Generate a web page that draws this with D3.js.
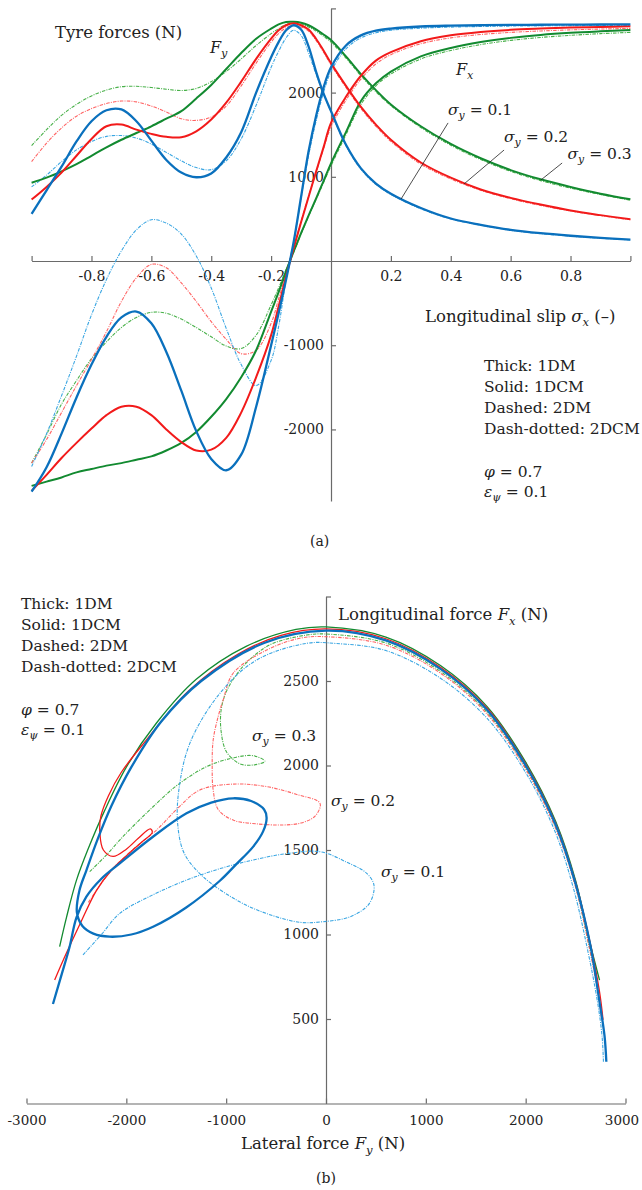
<!DOCTYPE html>
<html>
<head>
<meta charset="utf-8">
<script src="https://cdn.jsdelivr.net/npm/d3@7"></script>
<style>
body { margin: 0; background: #fff; }
svg { display: block; font-family: 'DejaVu Serif', serif; }
.axis path, .axis line { stroke: #6a6a6a; stroke-width: 1.2; }
.axis text { fill: #222; font-family: 'DejaVu Serif', serif; }
</style>
</head>
<body>
<div class="canvas"></div>
<script>
const font = "'DejaVu Serif'"

// longitudinal slip grid for panel (a)
const slip = [-1,-0.95,-0.9,-0.85,-0.8,-0.75,-0.7,-0.65,-0.6,-0.55,-0.5,-0.45,-0.4,-0.35,-0.3,-0.25,-0.2,-0.175,-0.15,-0.125,-0.1,-0.075,-0.05,-0.025,0,0.05,0.1,0.15,0.2,0.3,0.4,0.5,0.6,0.7,0.8,0.9,1]

// sigma_y = 0.1 (blue)
const fxBlue = [-2740,-2450,-2050,-1620,-1230,-900,-670,-600,-740,-1080,-1540,-2020,-2350,-2485,-2300,-1730,-1000,-620,-220,220,760,1300,1720,2060,2300,2560,2680,2735,2760,2785,2795,2800,2804,2806,2808,2809,2810]
const fyBlue = [560,840,1120,1420,1660,1790,1800,1660,1430,1200,1050,995,1040,1230,1530,2000,2420,2600,2740,2800,2750,2550,2250,1990,1780,1380,1100,920,800,630,505,430,370,330,300,275,255]
const fxBlueDC = [-2440,-2050,-1600,-1130,-640,-220,120,370,490,450,320,60,-320,-800,-1230,-1480,-1180,-780,-220,230,740,1250,1660,2000,2250,2520,2650,2710,2740,2765,2778,2785,2790,2793,2795,2797,2798]
const fyBlueDC = [880,1020,1180,1320,1420,1480,1490,1460,1390,1290,1190,1110,1085,1190,1450,1850,2300,2490,2650,2740,2680,2470,2220,1990,1770,1370,1090,910,790,620,500,425,365,325,295,270,250]

// sigma_y = 0.2 (red)
const fxRed = [-2730,-2540,-2340,-2160,-1990,-1830,-1730,-1730,-1830,-2000,-2150,-2250,-2240,-2100,-1800,-1380,-880,-540,-180,150,460,760,1060,1350,1640,1950,2200,2380,2480,2610,2680,2720,2745,2760,2772,2780,2788]
const fyRed = [730,880,1050,1250,1450,1600,1620,1560,1510,1475,1470,1540,1680,1880,2130,2400,2640,2740,2800,2823,2800,2750,2640,2500,2350,2080,1830,1620,1440,1170,990,850,750,670,600,545,495]
const fxRedDC = [-2400,-2120,-1800,-1480,-1170,-840,-480,-200,-40,-80,-260,-480,-720,-930,-1100,-1060,-740,-450,-150,160,470,770,1050,1330,1590,1910,2160,2340,2450,2580,2650,2690,2715,2732,2745,2755,2763]
const fyRedDC = [1180,1400,1580,1720,1810,1870,1900,1890,1840,1770,1690,1670,1710,1840,2080,2350,2600,2700,2770,2800,2780,2730,2620,2480,2330,2060,1810,1600,1420,1150,975,840,740,660,595,540,490]

// sigma_y = 0.3 (green)
const fxGreen = [-2670,-2620,-2570,-2510,-2470,-2430,-2400,-2360,-2320,-2250,-2160,-2030,-1850,-1640,-1380,-1060,-600,-370,-120,110,330,540,740,950,1160,1530,1900,2110,2250,2430,2530,2600,2650,2685,2710,2728,2743]
const fyGreen = [930,990,1065,1150,1250,1350,1440,1520,1600,1690,1780,1930,2090,2280,2470,2640,2760,2810,2838,2840,2830,2800,2750,2690,2625,2430,2220,2030,1860,1600,1390,1220,1080,970,880,800,733]
const fxGreenDC = [-2400,-2060,-1700,-1420,-1160,-960,-790,-670,-610,-620,-690,-790,-900,-1010,-1040,-880,-520,-320,-100,100,320,530,730,930,1130,1500,1860,2080,2220,2400,2500,2570,2620,2655,2680,2700,2715]
const fyGreenDC = [1370,1560,1730,1860,1960,2030,2070,2075,2060,2040,2025,2050,2130,2250,2400,2560,2700,2760,2810,2825,2815,2780,2730,2670,2600,2410,2200,2010,1845,1585,1375,1205,1065,955,865,790,722]

// panel (b) traces: [lateral axis value, longitudinal axis value]
const bBlue = [[-2735,589],[-2650,760],[-2568,928],[-2500,1100],[-2400,1224],[-2250,1330],[-2066,1421],[-1730,1580],[-1397,1717],[-1150,1780],[-930,1806],[-750,1790],[-620,1740],[-595,1690],[-630,1610],[-729,1520],[-900,1415],[-1063,1318],[-1400,1160],[-1732,1046],[-1950,1000],[-2167,987],[-2330,1005],[-2440,1050],[-2495,1130],[-2470,1260],[-2400,1380],[-2290,1560],[-2150,1760],[-1950,1990],[-1650,2260],[-1250,2500],[-620,2725],[0,2798],[600,2740],[1150,2570],[1612,2330],[2000,2000],[2300,1650],[2500,1300],[2650,930],[2740,600],[2790,400],[2808,247]]
const bBlueDC = [[-2434,879],[-2250,1000],[-2066,1125],[-1750,1230],[-1397,1322],[-1060,1390],[-729,1441],[-400,1478],[-60,1490],[200,1430],[408,1362],[481,1290],[430,1180],[241,1105],[-40,1075],[-261,1072],[-600,1125],[-896,1204],[-1231,1342],[-1420,1480],[-1485,1650],[-1475,1850],[-1364,2131],[-1063,2427],[-695,2624],[-194,2723],[100,2722],[600,2680],[1150,2515],[1612,2280],[2000,1958],[2290,1615],[2480,1270],[2620,910],[2720,600],[2765,400],[2779,247]]
const bRed = [[-2718,731],[-2600,890],[-2450,1080],[-2300,1260],[-2150,1380],[-2000,1465],[-1850,1545],[-1740,1605],[-1760,1625],[-1880,1570],[-2000,1505],[-2133,1462],[-2230,1500],[-2265,1600],[-2255,1700],[-2180,1820],[-2050,1960],[-1800,2150],[-1380,2440],[-880,2660],[-450,2770],[0,2808],[600,2750],[1150,2580],[1612,2340],[2000,2010],[2300,1660],[2500,1310],[2650,940],[2740,660],[2775,495]]
const bRedDC = [[-2380,1190],[-2150,1380],[-1900,1520],[-1698,1618],[-1480,1750],[-1264,1855],[-930,1890],[-595,1875],[-300,1830],[-60,1776],[-110,1700],[-250,1660],[-428,1648],[-700,1655],[-930,1677],[-1080,1740],[-1130,1855],[-1140,2000],[-1130,2151],[-1080,2290],[-1030,2388],[-930,2546],[-595,2683],[-261,2753],[0,2762],[600,2712],[1150,2545],[1612,2305],[2000,1978],[2300,1628],[2500,1280],[2640,915],[2740,600],[2760,490]]
const bGreen = [[-2668,928],[-2600,1100],[-2500,1320],[-2380,1510],[-2220,1730],[-2000,1990],[-1700,2250],[-1300,2510],[-800,2705],[-300,2805],[0,2820],[600,2760],[1150,2590],[1612,2350],[2000,2020],[2300,1670],[2500,1320],[2640,960],[2740,730]]
const bGreenDC = [[-2367,1372],[-2200,1470],[-2066,1559],[-1900,1660],[-1732,1756],[-1498,1880],[-1197,1993],[-930,2045],[-729,2058],[-612,2025],[-729,2003],[-862,2010],[-996,2080],[-1050,2200],[-1050,2330],[-996,2440],[-862,2565],[-700,2660],[-529,2723],[-194,2772],[0,2778],[600,2725],[1150,2555],[1612,2315],[2000,1985],[2300,1635],[2500,1285],[2640,920],[2715,722]]

// tick values
const slipTicks = [-1,-0.8,-0.6,-0.4,-0.2,0.2,0.4,0.6,0.8,1]
const forceTicksA = [-2000,-1000,1000,2000,3000]
const fyTicksB = [-3000,-2000,-1000,0,1000,2000,3000]
const fxTicksB = [500,1000,1500,2000,2500,3000]

const legendLines = ["Thick: 1DM", "Solid: 1DCM", "Dashed: 2DM", "Dash-dotted: 2DCM"]

// drawing order: thin dash-dotted first, thick on top
const series = [
  {fx: fxGreenDC, fy: fyGreenDC, b: bGreenDC, color: "#49b14a", dc: true},
  {fx: fxRedDC, fy: fyRedDC, b: bRedDC, color: "#ff6464", dc: true},
  {fx: fxBlueDC, fy: fyBlueDC, b: bBlueDC, color: "#3aa6e2", dc: true},
  {fx: fxGreen, fy: fyGreen, b: bGreen, color: "#128a30", dc: false},
  {fx: fxRed, fy: fyRed, b: bRed, color: "#f21a1a", dc: false},
  {fx: fxBlue, fy: fyBlue, b: bBlue, color: "#0a70bd", dc: false, thick: true}
]

const svg = d3.select(".canvas")
    .append("svg")
    .attr("width", 642)
    .attr("height", 1190)

function rich(g, x, y, parts, size) {
    const t = g.append("text").attr("x", x).attr("y", y)
        .attr("font-size", size).attr("fill", "#222")
        .style("font-family", font)
    let low = false
    parts.forEach(p => {
        const s = t.append("tspan").text(p.t)
        if (p.i) s.attr("font-style", "italic")
        if (p.sub) {
            s.attr("font-size", size * 0.7)
            if (!low) { s.attr("dy", size * 0.28); low = true }
        } else if (low) { s.attr("dy", -size * 0.28); low = false }
    })
    return t
}

// ---------- panel (a) ----------
const xA = d3.scaleLinear().domain([-1, 1]).range([31.6, 630.4])
const yA = d3.scaleLinear().domain([-2850, 3000]).range([501, 8.4])

const ga = svg.append("g")

ga.append("g").attr("class", "axis")
    .attr("transform", `translate(0,${yA(0)})`)
    .call(d3.axisBottom(xA).tickValues(slipTicks).tickSizeInner(-5).tickSizeOuter(0).tickPadding(10)
        .tickFormat(d => Math.abs(d) === 1 ? "" : d.toFixed(1)))
    .call(g => g.selectAll("text").attr("font-size", 14))

ga.append("g").attr("class", "axis")
    .attr("transform", `translate(${xA(0)},0)`)
    .call(d3.axisLeft(yA).tickValues(forceTicksA).tickSizeInner(-5).tickSizeOuter(0).tickPadding(7)
        .tickFormat(d => d === 3000 ? "" : d))
    .call(g => g.selectAll("text").attr("font-size", 14))

const lineA = d3.line()
    .x((d, i) => xA(slip[i]))
    .y(d => yA(d))
    .curve(d3.curveCatmullRom.alpha(0.5))

series.forEach(s => {
    [s.fx, s.fy].forEach(arr => {
        ga.append("path")
            .attr("d", lineA(arr))
            .attr("fill", "none")
            .attr("stroke", s.color)
            .attr("stroke-width", s.dc ? 1.1 : (s.thick ? 2.3 : 2))
            .attr("stroke-dasharray", s.dc ? "3.5,1.2,1,1.2" : null)
    })
})

rich(ga, 55, 38, [{t: "Tyre forces (N)"}], 16.5)
rich(ga, 210, 53, [{t: "F", i: true}, {t: "y", i: true, sub: true}], 16)
rich(ga, 456, 75, [{t: "F", i: true}, {t: "x", i: true, sub: true}], 16)

// sigma_y labels with leader lines (data coordinates)
const leadersA = [
    {lab: "0.1", from: [0.391, 1640], to: [0.234, 736], tx: 448, ty: 115},
    {lab: "0.2", from: [0.578, 1318], to: [0.444, 914], tx: 504, ty: 141.5},
    {lab: "0.3", from: [0.772, 1164], to: [0.701, 962], tx: 567.5, ty: 159}
]
leadersA.forEach(l => {
    ga.append("line")
        .attr("x1", xA(l.from[0])).attr("y1", yA(l.from[1]))
        .attr("x2", xA(l.to[0])).attr("y2", yA(l.to[1]))
        .attr("stroke", "#222").attr("stroke-width", 0.8)
    rich(ga, l.tx, l.ty, [{t: "σ", i: true}, {t: "y", i: true, sub: true}, {t: " = " + l.lab}], 15.5)
})

rich(ga, 425, 321.5, [{t: "Longitudinal slip "}, {t: "σ", i: true}, {t: "x", i: true, sub: true}, {t: " (–)"}], 16.5)

legendLines.forEach((t, i) => rich(ga, 484, 370.5 + i * 21.1, [{t: t}], 15.5))
rich(ga, 484, 476.5, [{t: "φ", i: true}, {t: " = 0.7"}], 15.5)
rich(ga, 484, 496.5, [{t: "ε", i: true}, {t: "ψ", i: true, sub: true}, {t: " = 0.1"}], 15.5)

rich(ga, 310, 546, [{t: "(a)"}], 14)

// ---------- panel (b) ----------
const xB = d3.scaleLinear().domain([-3000, 3000]).range([26.5, 625.5])
const yB = d3.scaleLinear().domain([0, 3000]).range([1103.5, 596.5])

const gb = svg.append("g")

gb.append("g").attr("class", "axis")
    .attr("transform", `translate(0,${yB(0)})`)
    .call(d3.axisBottom(xB).tickValues(fyTicksB).tickSizeInner(-5).tickSizeOuter(0).tickPadding(12)
        .tickFormat(d => d))
    .call(g => g.selectAll("text").attr("font-size", 13.5)
        .attr("dx", d => d === 3000 ? -4 : 0))

gb.append("g").attr("class", "axis")
    .attr("transform", `translate(${xB(0)},0)`)
    .call(d3.axisLeft(yB).tickValues(fxTicksB).tickSizeInner(-5).tickSizeOuter(0).tickPadding(7)
        .tickFormat(d => d === 3000 ? "" : d))
    .call(g => g.selectAll("text").attr("font-size", 14))

const lineB = d3.line()
    .x(d => xB(d[0]))
    .y(d => yB(d[1]))
    .curve(d3.curveCatmullRom.alpha(0.5))

series.forEach(s => {
    gb.append("path")
        .attr("d", lineB(s.b))
        .attr("fill", "none")
        .attr("stroke", s.color)
        .attr("stroke-width", s.dc ? 1.1 : (s.thick ? 2.3 : 1.3))
        .attr("stroke-dasharray", s.dc ? "3.5,1.2,1,1.2" : null)
})

legendLines.forEach((t, i) => rich(gb, 21, 609 + i * 21, [{t: t}], 15.5))
rich(gb, 21, 715, [{t: "φ", i: true}, {t: " = 0.7"}], 15.5)
rich(gb, 21, 735, [{t: "ε", i: true}, {t: "ψ", i: true, sub: true}, {t: " = 0.1"}], 15.5)

rich(gb, 338, 620, [{t: "Longitudinal force "}, {t: "F", i: true}, {t: "x", i: true, sub: true}, {t: " (N)"}], 16.5)
rich(gb, 252, 740.5, [{t: "σ", i: true}, {t: "y", i: true, sub: true}, {t: " = 0.3"}], 15.5)
rich(gb, 331, 806, [{t: "σ", i: true}, {t: "y", i: true, sub: true}, {t: " = 0.2"}], 15.5)
rich(gb, 381, 877, [{t: "σ", i: true}, {t: "y", i: true, sub: true}, {t: " = 0.1"}], 15.5)
rich(gb, 241, 1149, [{t: "Lateral force "}, {t: "F", i: true}, {t: "y", i: true, sub: true}, {t: " (N)"}], 16.5)
rich(gb, 316, 1183, [{t: "(b)"}], 14)
</script>
</body>
</html>
